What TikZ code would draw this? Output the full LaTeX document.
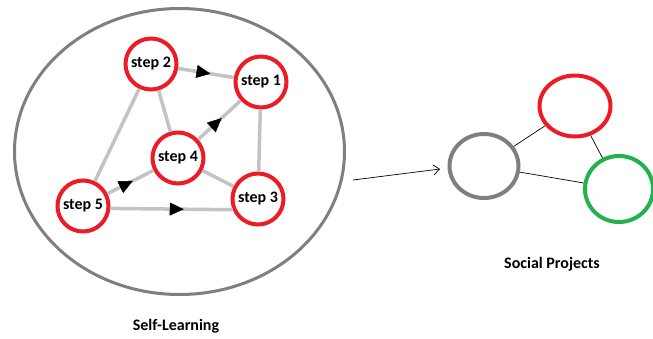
\documentclass[tikz,border=0pt]{standalone}
\usepackage{fontspec}
\setmainfont{Carlito}
\usetikzlibrary{shapes.geometric,arrows.meta,decorations.markings}
\definecolor{pred}{RGB}{237,28,36}
\definecolor{pgreen}{RGB}{34,177,76}
\definecolor{pgray}{RGB}{127,127,127}
\definecolor{lgray}{RGB}{195,195,195}
\tikzset{
  stepnode/.style={circle,draw=pred,line width=4pt,fill=white,minimum size=51pt,inner sep=0pt,
    font=\fontsize{16}{18}\selectfont\bfseries},
  link/.style={draw=lgray,line width=3.5pt},
  midarrow/.style={link,postaction={decorate},decoration={markings,
    mark=at position #1 with {\arrow[black,line width=0.5pt]{Triangle[length=14pt 0,width=13pt 0]}}}},
  midarrow/.default=0.5,
  proj/.style={ellipse,line width=4pt,inner sep=0pt},
  thinline/.style={draw=black,line width=0.7pt},
  lbl/.style={font=\fontsize{16}{18}\selectfont\bfseries}
}
\begin{document}
\begin{tikzpicture}[x=1pt,y=-1pt]
\useasboundingbox (0,0) rectangle (653,338);
% big ellipse
\node[ellipse,draw=pgray,line width=3pt,minimum width=330pt,minimum height=286pt,inner sep=0pt] (big) at (179.5,151.5) {};
% step nodes
\node[stepnode] (s2) at (151,64) {step 2};
\node[stepnode] (s1) at (261,82) {step 1};
\node[stepnode] (s4) at (178,158) {step 4};
\node[stepnode] (s3) at (258,199) {step 3};
\node[stepnode] (s5) at (83,206) {step 5};
% edges
\draw[midarrow=0.58] (s2) -- (s1);
\draw[midarrow=0.55] (s4) -- (s1);
\draw[midarrow=0.55] (s5) -- (s4);
\draw[midarrow=0.6] (s5.-5) -- (s3.203);
\draw[link] (s2) -- (s5);
\draw[link] (s2) -- (s4);
\draw[link] (s1) -- (s3);
\draw[link] (s4) -- (s3);
\node[lbl] (sl) at (176,326) {Self-Learning};
% arrow to social projects
\coordinate (a0) at (353,180);
% right circles
\node[proj,draw=pgray,minimum width=69pt,minimum height=64pt] (g) at (484,166) {};
\node[proj,draw=pred,minimum width=71pt,minimum height=61pt] (r) at (575,106) {};
\node[proj,draw=pgreen,minimum width=68pt,minimum height=66pt] (gr) at (619,189) {};
\coordinate (a1) at (440,169);
\draw[thinline,-{Straight Barb[length=6pt,width=10pt]}] (a0) -- (a1);
\draw[thinline] (g) -- (r);
\draw[thinline] (r) -- (gr);
\draw[thinline] (g) -- (gr);
\node[lbl] (sp) at (552,264) {Social Projects};
\end{tikzpicture}
\end{document}
